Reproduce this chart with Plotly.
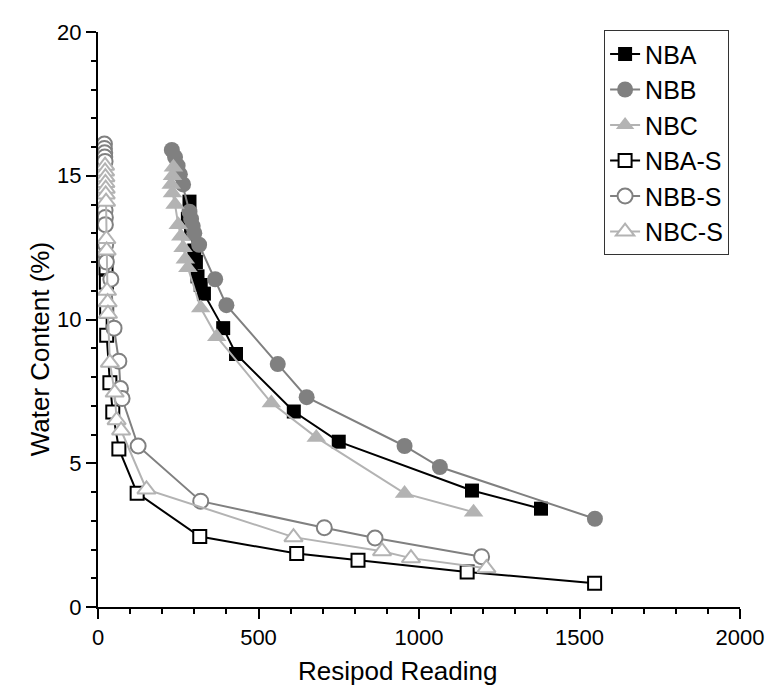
import plotly.graph_objects as go

# ---- data ----
nba_x = [285, 280, 290, 300, 305, 310, 320, 330, 390, 430, 610, 750, 1165, 1380]
nba_y = [14.1, 13.5, 13.0, 12.4, 12.0, 11.5, 11.2, 10.9, 9.7, 8.8, 6.8, 5.75, 4.05, 3.42]

nbb_x = [230, 240, 248, 255, 265, 285, 290, 295, 300, 315, 365, 400, 560, 650, 955, 1065, 1548]
nbb_y = [15.9, 15.65, 15.35, 15.05, 14.7, 13.75, 13.5, 13.25, 13.0, 12.6, 11.4, 10.5, 8.45, 7.3, 5.6, 4.87, 3.07]

nbc_x = [235, 232, 228, 232, 240, 250, 258, 265, 272, 280, 320, 370, 540, 680, 955, 1170]
nbc_y = [15.3, 15.0, 14.7, 14.4, 14.0, 13.3, 12.9, 12.5, 12.1, 11.8, 10.4, 9.4, 7.1, 5.9, 3.95, 3.3]

nbas_x = [25, 26, 27, 27, 37, 46, 65, 122, 317, 619, 810, 1150, 1547]
nbas_y = [11.8, 11.3, 10.3, 9.45, 7.8, 6.78, 5.5, 3.96, 2.45, 1.86, 1.63, 1.22, 0.83]

nbbs_x = [20, 20, 21, 21, 22, 22, 23, 23, 24, 25, 26, 40, 50, 65, 70, 75, 125, 320, 705, 863, 1195]
nbbs_y = [16.1, 15.95, 15.8, 15.65, 15.5, 13.8, 13.55, 13.3, 12.6, 12.25, 12.0, 11.4, 9.7, 8.55, 7.6, 7.25, 5.6, 3.68, 2.76, 2.4, 1.75]

nbcs_x = [22, 22, 23, 23, 24, 24, 25, 26, 27, 28, 30, 31, 37, 52, 58, 72, 151, 609, 885, 975, 1210]
nbcs_y = [15.35, 15.15, 14.95, 14.75, 14.55, 14.35, 14.1, 12.8, 12.4, 11.0, 10.6, 10.2, 8.5, 7.46, 6.5, 6.14, 4.09, 2.43, 1.94, 1.7, 1.35]

x_ticks = [0, 500, 1000, 1500, 2000]
y_ticks = [0, 5, 10, 15, 20]

BLACK = "#000000"
GRAY = "#808080"
LIGHT = "#b3b3b3"

series = [
    ("NBA", nba_x, nba_y, "square", BLACK, BLACK, 14),
    ("NBB", nbb_x, nbb_y, "circle", GRAY, GRAY, 16),
    ("NBC", nbc_x, nbc_y, "triangle-up", LIGHT, LIGHT, 17),
    ("NBA-S", nbas_x, nbas_y, "square", BLACK, "white", 13),
    ("NBB-S", nbbs_x, nbbs_y, "circle", GRAY, "white", 15),
    ("NBC-S", nbcs_x, nbcs_y, "triangle-up", LIGHT, "white", 16),
]

fig = go.Figure()
for name, xs, ys, sym, col, fill, sz in series:
    fig.add_trace(go.Scatter(
        x=xs, y=ys, name=name, mode="lines+markers",
        line=dict(color=col, width=2),
        marker=dict(symbol=sym, size=sz, color=fill,
                    line=dict(color=col, width=2 if fill == "white" else 0)),
    ))

font = "Liberation Sans, Arial, sans-serif"
fig.update_layout(
    width=768, height=683,
    margin=dict(l=90, r=25, t=12, b=84),
    plot_bgcolor="white", paper_bgcolor="white",
    font=dict(family=font, size=22, color="black"),
    showlegend=True,
    legend=dict(x=0.983, xanchor="right", y=1.003, yanchor="top",
                bordercolor="#333333", borderwidth=1, bgcolor="white",
                font=dict(size=25), tracegroupgap=0),
    xaxis=dict(range=[0, 2000], tickvals=x_ticks, showgrid=False, zeroline=False,
               showline=True, linecolor="black", linewidth=2,
               ticks="outside", ticklen=10, tickwidth=2, tickcolor="black",
               minor=dict(dtick=100, ticks="outside", ticklen=5, tickwidth=2, tickcolor="black")),
    yaxis=dict(range=[0, 20], tickvals=y_ticks, showgrid=False, zeroline=False,
               showline=True, linecolor="black", linewidth=2,
               ticks="outside", ticklen=10, tickwidth=2, tickcolor="black",
               minor=dict(dtick=1, ticks="outside", ticklen=5, tickwidth=2, tickcolor="black")),
    annotations=[
        dict(text="Resipod Reading", xref="paper", yref="paper", x=0.467, y=-0.111,
             xanchor="center", yanchor="middle", showarrow=False, font=dict(size=26)),
        dict(text="Water Content (%)", xref="paper", yref="paper", x=-0.089, y=0.448,
             xanchor="center", yanchor="middle", textangle=-90, showarrow=False,
             font=dict(size=26)),
    ],
)

fig.write_html("out.html")
